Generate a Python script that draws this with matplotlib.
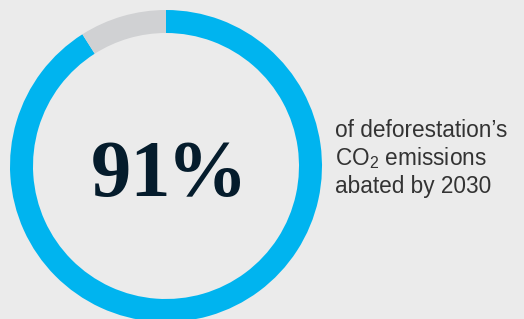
import matplotlib.pyplot as plt

# chart values
shares = [91, 9]
share_colors = ['#00b4ef', '#d0d1d3']
big_number = '91'
big_sign = '%'
side_lines = ['of deforestation\u2019s', 'CO$_2$ emissions', 'abated by 2030']

W, H = 524, 319
bg = '#ebebeb'

plt.rcParams['mathtext.fontset'] = 'custom'
plt.rcParams['mathtext.rm'] = 'Liberation Sans'

fig = plt.figure(figsize=(W / 100, H / 100), dpi=100, facecolor=bg)

# donut: centre (166, 166) px from top-left, outer radius 156 px
cx, cy, r = 166, 166, 156
ax = fig.add_axes([(cx - r) / W, (H - cy - r) / H, 2 * r / W, 2 * r / H])
ax.set_facecolor(bg)
ax.pie(shares, colors=share_colors, startangle=90, counterclock=False,
       radius=1, wedgeprops=dict(width=23 / r, linewidth=0))
ax.set_xlim(-1, 1)
ax.set_ylim(-1, 1)
ax.set_aspect('auto')
ax.axis('off')

# text layer in pixel coords
tx = fig.add_axes([0, 0, 1, 1])
tx.set_xlim(0, W)
tx.set_ylim(H, 0)
tx.axis('off')
tx.patch.set_alpha(0)

big = dict(va='baseline', fontsize=58, fontweight='bold',
           family='Liberation Serif', color='#051c2c')
tx.text(171, 196, big_number, ha='right', **big)
tx.text(167, 196, big_sign, ha='left', **big)

for i, line in enumerate(side_lines):
    tx.text(335, 137 + 28 * i, line, ha='left', va='baseline', fontsize=16.3,
            family='Liberation Sans', color='#333333')

fig.savefig('out.png', dpi=100, facecolor=bg)
